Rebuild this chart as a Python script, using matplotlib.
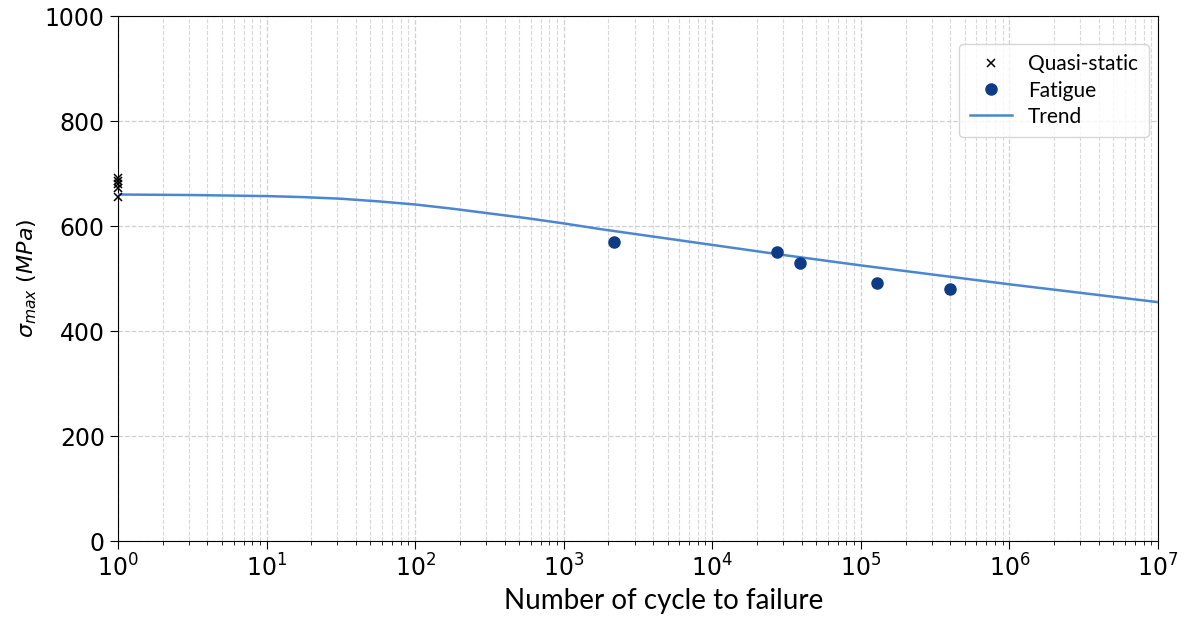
import numpy as np
import matplotlib.pyplot as plt
from matplotlib.ticker import LogLocator, NullFormatter

# ------------------------------------------
# DATA
# ------------------------------------------
qs_cycles = [1, 1, 1, 1, 1]
qs_stress = [656, 672, 680, 686, 691]

fat_cycles = [2170, 27200, 38800, 128000, 398000]
fat_stress = [570, 550, 530, 491, 480]

trend_cycles = [1, 3.16, 10, 17.8, 31.6, 56.2, 100, 178, 316, 562, 1000,
                1778, 3162, 1e4, 3.16e4, 1e5, 3.16e5, 1e6, 3.16e6, 1e7]
trend_stress = [660, 659, 657, 655, 652, 647, 641, 633, 624, 615, 605,
                594, 584, 564, 544, 525, 507, 489, 472, 455]

label_font = ['Lato', 'DejaVu Sans']

fig = plt.figure(figsize=(11.88, 6.23), dpi=100)
ax = fig.add_axes([0.0993, 0.1316, 0.8754, 0.8427])

ax.plot(qs_cycles, qs_stress, 'x', color='black', markersize=6,
        markeredgewidth=1.1, label='Quasi-static', clip_on=False, zorder=4)
ax.plot(fat_cycles, fat_stress, 'o', color='#0d3b86', markersize=8,
        label='Fatigue', zorder=4)
ax.plot(trend_cycles, trend_stress, '-', color='#4a87d0', linewidth=1.8,
        label='Trend', zorder=3)

ax.set_xscale('log')
ax.set_xlim(1, 1e7)
ax.set_ylim(0, 1000)
ax.set_yticks([0, 200, 400, 600, 800, 1000])
ax.xaxis.set_major_locator(LogLocator(base=10, numticks=20))
ax.xaxis.set_minor_locator(LogLocator(base=10, subs=np.arange(2, 10), numticks=100))
ax.xaxis.set_minor_formatter(NullFormatter())

ax.grid(True, which='major', axis='both', linestyle='--', color='#d0d0d0', linewidth=0.9)
ax.grid(True, which='minor', axis='x', linestyle='--', color='#d8d8d8', linewidth=0.8)
ax.set_axisbelow(True)

ax.tick_params(axis='both', which='major', labelsize=17, length=6)
ax.tick_params(axis='x', which='minor', length=3)

ax.set_xlabel('Number of cycle to failure', fontsize=20, family=label_font,
              labelpad=5, x=0.525)
ax.set_ylabel(r'$\sigma_{max}$ $(MPa)$', fontsize=16)

leg = ax.legend(loc='upper right', bbox_to_anchor=(0.991, 0.947), borderaxespad=0,
                prop={'family': label_font, 'size': 15}, frameon=True,
                handlelength=2.0, borderpad=0.5, labelspacing=0.3)
leg.get_frame().set_edgecolor('#cccccc')

fig.savefig('out.png', dpi=100)
